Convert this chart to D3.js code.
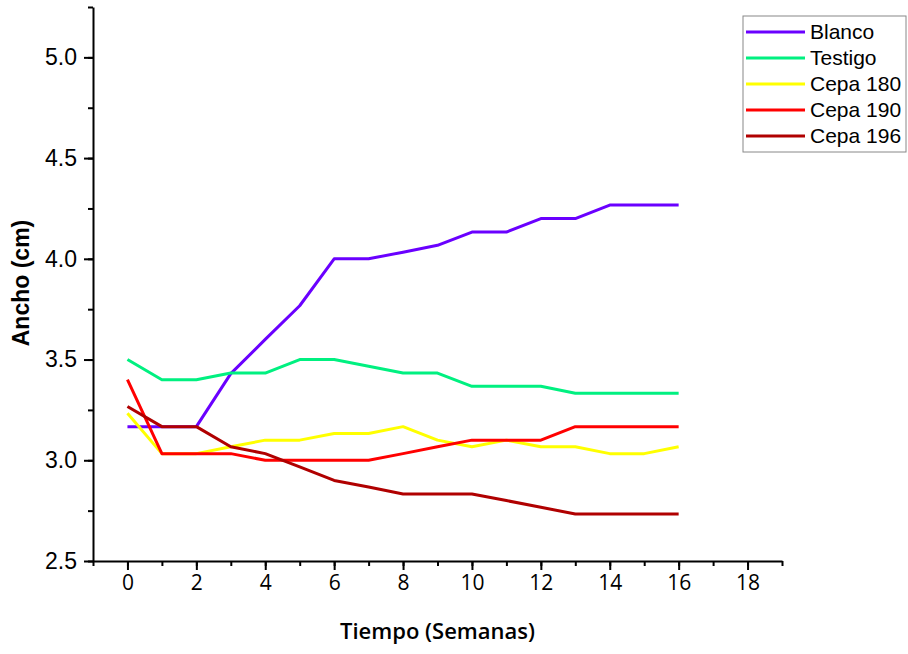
<!DOCTYPE html>
<html>
<head>
<meta charset="utf-8">
<script src="https://cdn.jsdelivr.net/npm/d3@7"></script>
<style>
	body { margin: 0; background: #fff; }
	.y-axis .tick text { font-family: 'Liberation Sans', Arial, sans-serif; }
	.x-axis .tick text { font-family: 'Open Sans', sans-serif; }
	.axis-title { font-family: 'Open Sans', sans-serif; font-weight: 600; font-size: 22px; fill: #000; }
	.y-title { font-family: 'Liberation Sans', Arial, sans-serif; font-weight: bold; font-size: 23px; fill: #000; }
	.legend text { font-family: 'Liberation Sans', Arial, sans-serif; font-size: 21px; }
</style>
</head>
<body>
<div id="chart-container"></div>
<script>
const weeks = [0, 1, 2, 3, 4, 5, 6, 7, 8, 9, 10, 11, 12, 13, 14, 15, 16];
const seriesNames = ['Blanco', 'Testigo', 'Cepa 180', 'Cepa 190', 'Cepa 196'];
const seriesColors = ['#6a00ff', '#00f080', '#ffff00', '#ff0000', '#b00000'];

const blanco = [3.167, 3.167, 3.167, 3.43, 3.6, 3.767, 4.0, 4.0, 4.033, 4.067, 4.133, 4.133, 4.2, 4.2, 4.267, 4.267, 4.267];
const testigo = [3.5, 3.4, 3.4, 3.433, 3.433, 3.5, 3.5, 3.467, 3.433, 3.433, 3.367, 3.367, 3.367, 3.333, 3.333, 3.333, 3.333];
const cepa180 = [3.233, 3.033, 3.033, 3.067, 3.1, 3.1, 3.133, 3.133, 3.167, 3.1, 3.067, 3.1, 3.067, 3.067, 3.033, 3.033, 3.067];
const cepa190 = [3.4, 3.033, 3.033, 3.033, 3.0, 3.0, 3.0, 3.0, 3.033, 3.067, 3.1, 3.1, 3.1, 3.167, 3.167, 3.167, 3.167];
const cepa196 = [3.267, 3.167, 3.167, 3.067, 3.033, 2.967, 2.9, 2.867, 2.833, 2.833, 2.833, 2.8, 2.767, 2.733, 2.733, 2.733, 2.733];

const xTicks = [0, 2, 4, 6, 8, 10, 12, 14, 16, 18];
const yTicks = [2.5, 3.0, 3.5, 4.0, 4.5, 5.0];

const allValues = [blanco, testigo, cepa180, cepa190, cepa196];

const W = 908, H = 654;
const margin = { top: 7, right: 126, bottom: 93, left: 93 };
const width = W - margin.left - margin.right,
	height = H - margin.top - margin.bottom;

const svg = d3
	.select('#chart-container')
	.append('svg')
	.attr('width', W)
	.attr('height', H)
	.append('g')
	.attr('transform', 'translate(' + margin.left + ',' + margin.top + ')');

const x = d3.scaleLinear().domain([-1, 19]).range([0, width]);
const y = d3.scaleLinear().domain([2.5, 5.25]).range([height, 0]);

// minor ticks
svg.append('g')
	.attr('transform', 'translate(0,' + height + ')')
	.call(d3.axisBottom(x).tickValues(d3.range(-1, 20, 1)).tickSize(5).tickFormat(''))
	.call(g => g.select('.domain').remove())
	.selectAll('line').attr('stroke-width', 2);

svg.append('g')
	.call(d3.axisLeft(y).tickValues(d3.range(2.5, 5.26, 0.25)).tickSize(5).tickFormat(''))
	.call(g => g.select('.domain').remove())
	.selectAll('line').attr('stroke-width', 2);

const xAxis = svg.append('g')
	.attr('class', 'x-axis')
	.attr('transform', 'translate(0,' + height + ')')
	.call(d3.axisBottom(x).tickValues(xTicks).tickSize(9).tickSizeOuter(0).tickPadding(5));
xAxis.selectAll('text').attr('font-size', 21).attr('fill', '#000');
xAxis.selectAll('line, path').attr('stroke-width', 2);

const yAxis = svg.append('g')
	.attr('class', 'y-axis')
	.call(d3.axisLeft(y).tickValues(yTicks).tickFormat(d3.format('.1f')).tickSize(9).tickSizeOuter(0).tickPadding(7));
yAxis.selectAll('text').attr('font-size', 23).attr('fill', '#000');
yAxis.selectAll('line, path').attr('stroke-width', 2);

svg.append('text')
	.attr('class', 'axis-title')
	.attr('text-anchor', 'middle')
	.attr('x', x(9))
	.attr('y', height + 78)
	.text('Tiempo (Semanas)');

svg.append('text')
	.attr('class', 'y-title')
	.attr('text-anchor', 'middle')
	.attr('transform', 'translate(-64,276) rotate(-90)')
	.text('Ancho (cm)');

const line = d3.line()
	.x((d, i) => x(weeks[i]))
	.y(d => y(d));

svg.append('g')
	.selectAll('path')
	.data(allValues)
	.enter()
	.append('path')
	.attr('d', d => line(d))
	.attr('fill', 'none')
	.attr('stroke', (d, i) => seriesColors[i])
	.attr('stroke-width', 3)
	.attr('stroke-linejoin', 'round');

// legend
const legend = svg.append('g')
	.attr('class', 'legend')
	.attr('transform', 'translate(' + (743 - margin.left) + ',' + (16 - margin.top) + ')');

legend.append('rect')
	.attr('width', 163)
	.attr('height', 136)
	.attr('fill', '#fff')
	.attr('stroke', '#888')
	.attr('stroke-width', 1);

const items = legend.selectAll('g.item')
	.data(seriesNames)
	.enter()
	.append('g')
	.attr('class', 'item')
	.attr('transform', (d, i) => 'translate(0,' + (16 + i * 26) + ')');

items.append('line')
	.attr('x1', 3)
	.attr('x2', 62)
	.attr('stroke', (d, i) => seriesColors[i])
	.attr('stroke-width', 3);

items.append('text')
	.attr('x', 67)
	.attr('dy', '0.35em')
	.text(d => d);
</script>
</body>
</html>
